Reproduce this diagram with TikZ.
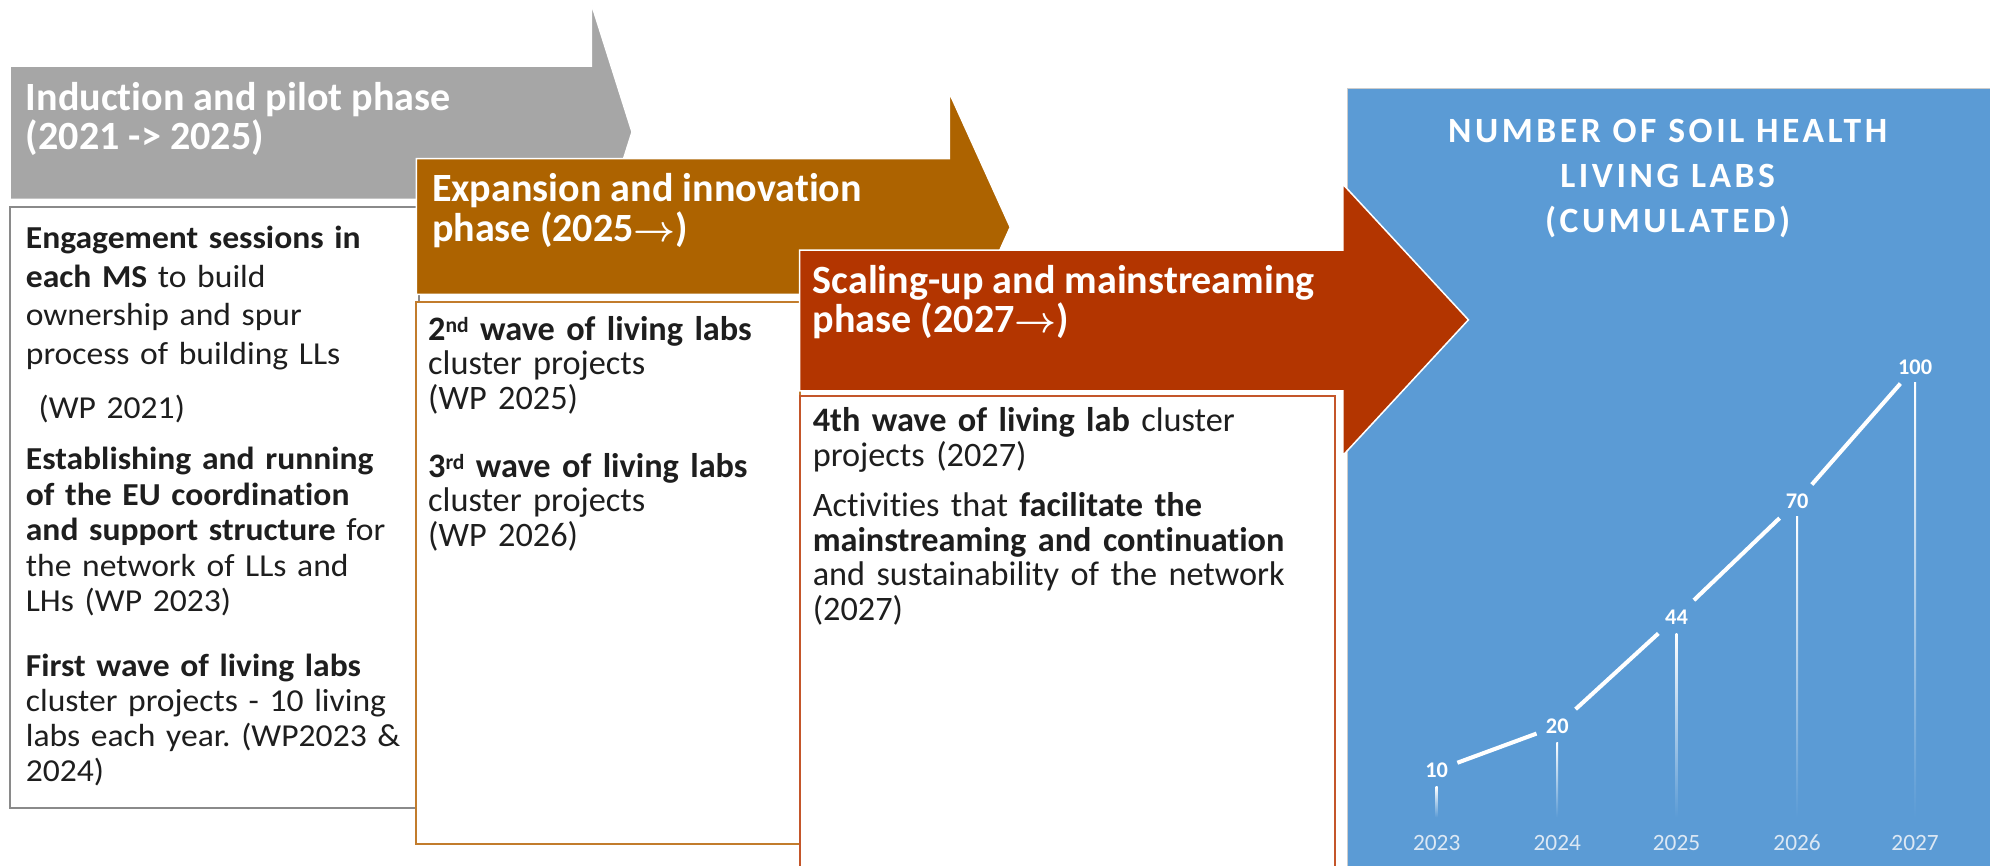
\documentclass[tikz,border=0pt]{standalone}
\usepackage{fontspec}
\setmainfont{Carlito}[Ligatures={TeX,NoCommon}]
\newfontfamily\leftfont{Carlito}[FakeStretch=1.05, Ligatures={TeX,NoCommon}]
\newfontfamily\titlefont{Carlito}[LetterSpace=10]
\usetikzlibrary{calc}
\frenchspacing
\definecolor{graya}{HTML}{A6A6A6}
\definecolor{oran}{HTML}{AD6300}
\definecolor{redd}{HTML}{B33500}
\definecolor{bluep}{HTML}{5B9BD5}
\definecolor{grayb}{HTML}{8A8A8A}
\definecolor{oranb}{HTML}{C27C2C}
\definecolor{redb}{HTML}{C4562A}
\definecolor{yearc}{HTML}{DCE8F4}
\definecolor{ink}{HTML}{1E1E1E}
\newcommand{\phasearrow}{{\boldmath$\rightarrow$}}
\newcommand{\supx}[1]{\raisebox{0.45ex}{\fontsize{8.5}{9}\selectfont #1}}
\tikzset{
  arrowshape/.style={draw=white, line width=0.6pt, line join=miter},
  boxshape/.style={fill=white, line width=0.8pt},
  titletext/.style={anchor=base west, inner sep=0pt, text=white,
    font=\fontsize{15.8}{15.5}\selectfont\bfseries},
  bodytext/.style={anchor=base west, inner sep=0pt, text=ink, text width=#1, align=left,
    font=\fontsize{13.5}{13.6}\selectfont},
  lefttext/.style={anchor=base west, inner sep=0pt, text=ink, text width=158pt, align=left,
    font=\leftfont\fontsize{12.6}{#1}\selectfont},
  paneltitle/.style={anchor=base, inner sep=0pt, text=white, text width=230pt, align=center,
    font=\titlefont\fontsize{14}{17.8}\selectfont\bfseries},
  valuelabel/.style={text=white, inner sep=3.5pt, font=\fontsize{8.8}{9}\selectfont\bfseries},
  yearlabel/.style={text=yearc, inner sep=0pt, font=\fontsize{9.2}{10}\selectfont},
  chartline/.style={white, line width=1.6pt},
}
\begin{document}
\begin{tikzpicture}[x=0.5pt,y=-0.5pt]
\useasboundingbox (0,0) rectangle (1568,682);

% gray arrow
\fill[graya, arrowshape] (8,52) -- (466,52) -- (466,3) -- (498,104) -- (466,205) -- (466,157) -- (8,157) -- cycle;
\node[titletext] (t1a) at (20,87) {Induction and pilot phase};
\node[titletext] (t1b) at (20,118) {(2021 -> 2025)};

% left box
\draw[boxshape, draw=grayb] (8,163) rectangle (330,637);
\node[lefttext=15.2pt] (l1) at (20,196) {\textbf{Engagement sessions in}\\\textbf{each MS} to build\\ownership and spur\\process of building LLs};
\node[lefttext=14pt] (l2) at (30,330) {(WP 2021)};
\node[lefttext=14pt] (l3) at (20,370) {\textbf{Establishing and running}\\\textbf{of the EU coordination}\\\textbf{and support structure} for\\the network of LLs and\\LHs (WP 2023)};
\node[lefttext=13.8pt] (l4) at (20,533) {\textbf{First wave of living labs}\\cluster projects - 10 living\\labs each year. (WP2023 \&\\2024)};

% orange arrow
\fill[oran, arrowshape] (328,125) -- (748,125) -- (748,73) -- (796,179) -- (748,285) -- (748,232) -- (328,232) -- cycle;
\node[titletext] (t2a) at (340,159) {Expansion and innovation};
\node[titletext] (t2b) at (340,190) {phase (2025\phasearrow)};

% middle box
\draw[boxshape, draw=oranb] (328,238) rectangle (630,665);
\node[bodytext=142pt] (m1) at (337,268) {\textbf{2\supx{nd} wave of living labs}\\cluster projects\\(WP 2025)};
\node[bodytext=142pt] (m2) at (337,376) {\textbf{3\supx{rd} wave of living labs}\\cluster projects\\(WP 2026)};

% blue panel
\fill[bluep] (1062,70) rectangle (1568,690);
\draw[black!20, line width=0.5pt] (1062,690) -- (1062,70) -- (1568,70);
\node[paneltitle] (pt) at (1314,112) {NUMBER OF SOIL HEALTH\\LIVING LABS\\(CUMULATED)};

% red arrow
\fill[redd, arrowshape] (630,197) -- (1058,197) -- (1058,145) -- (1157,252) -- (1058,359) -- (1058,308) -- (630,308) -- cycle;
\node[titletext] (t3a) at (640,231) {Scaling-up and mainstreaming};
\node[titletext] (t3b) at (640,262) {phase (2027\phasearrow)};

% red box
\draw[boxshape, draw=redb] (630,312) rectangle (1052,700);
\node[bodytext=200pt] (r1) at (640,340) {\textbf{4th wave of living lab} cluster\\projects (2027)};
\node[bodytext=200pt] (r2) at (640,407) {Activities that \textbf{facilitate the}\\\textbf{mainstreaming and continuation}\\and sustainability of the network\\(2027)};

% chart
\foreach \x/\ytop in {1132/620, 1227/585, 1321/499, 1416/407, 1509/301}{
  \shade[top color=white, bottom color=bluep] (\x-0.75,\ytop) rectangle (\x+0.75,644);
}
\node[valuelabel] (v1) at (1132,607) {10};
\node[valuelabel] (v2) at (1227,572) {20};
\node[valuelabel] (v3) at (1321,486) {44};
\node[valuelabel] (v4) at (1416,395) {70};
\node[valuelabel] (v5) at (1509,289) {100};
\draw[chartline] (v1) -- (v2);
\draw[chartline] (v2) -- (v3);
\draw[chartline] (v3) -- (v4);
\draw[chartline] (v4) -- (v5);
\node[yearlabel] (y1) at (1132,664) {2023};
\node[yearlabel] (y2) at (1227,664) {2024};
\node[yearlabel] (y3) at (1321,664) {2025};
\node[yearlabel] (y4) at (1416,664) {2026};
\node[yearlabel] (y5) at (1509,664) {2027};
\end{tikzpicture}
\end{document}
